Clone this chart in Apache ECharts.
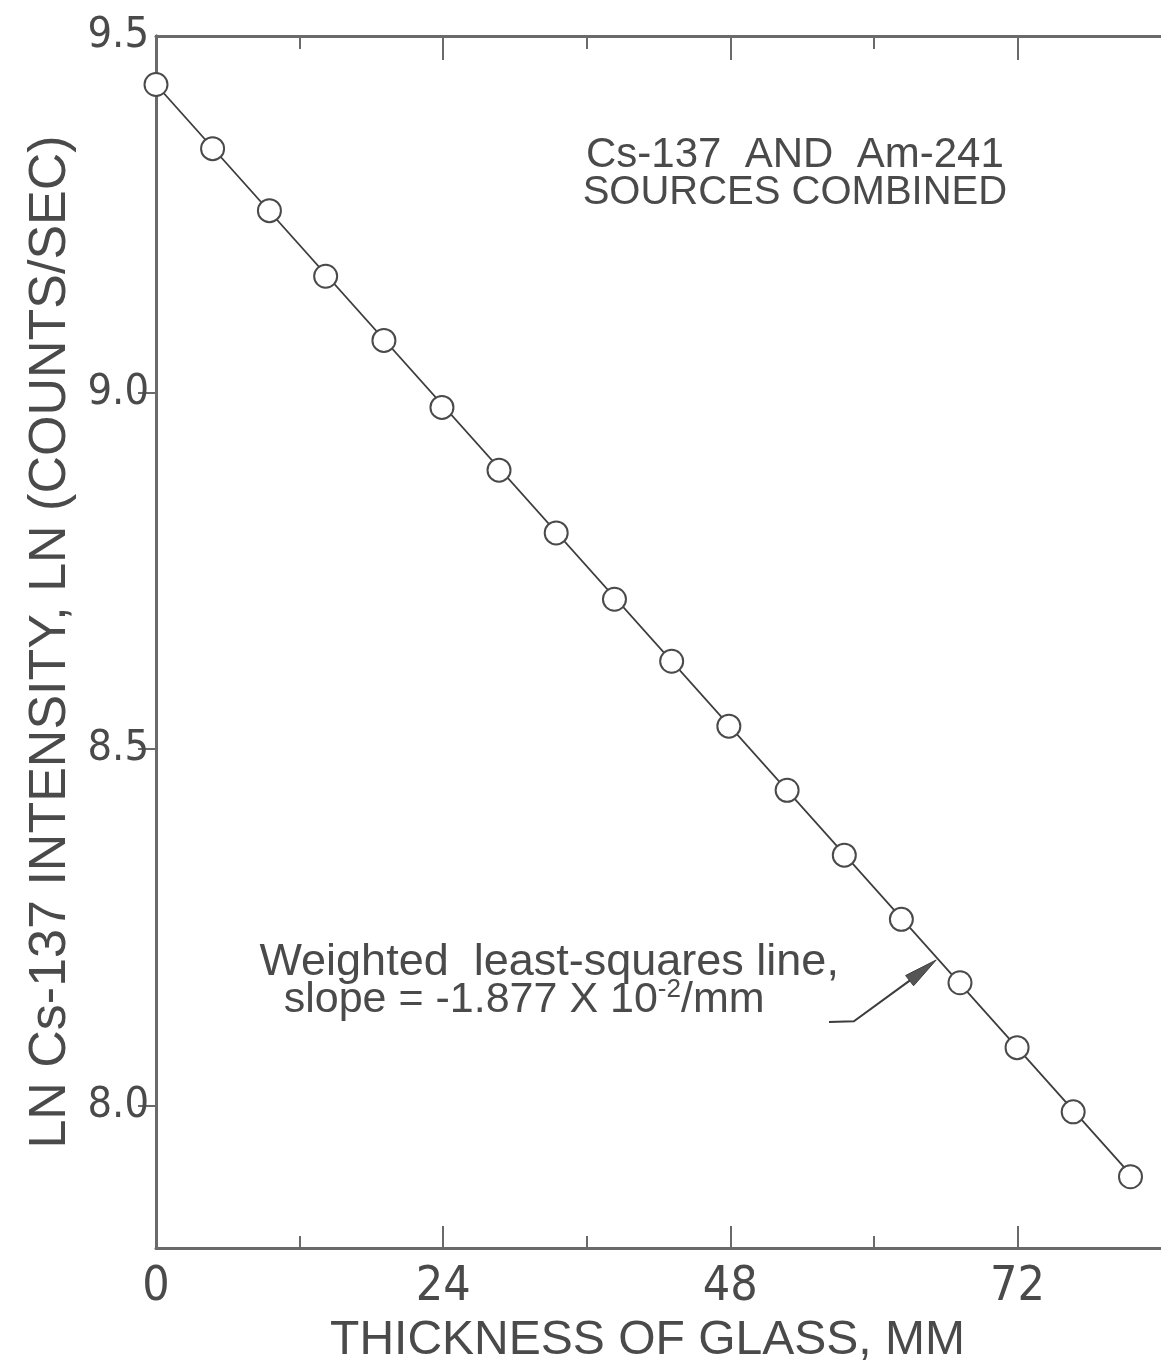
<!DOCTYPE html>
<html>
<head>
<meta charset="utf-8">
<script src="https://cdn.jsdelivr.net/npm/echarts@6/dist/echarts.min.js"></script>
<style>
  html, body { margin: 0; padding: 0; background: #ffffff; }
  #chart { width: 1161px; height: 1370px; }
</style>
</head>
<body>
<div id="chart"></div>
<script>
// Glass thickness (mm) and measured ln(Cs-137 count rate), both sources in place
const thicknessMm = [0, 4.73, 9.48, 14.18, 19.05, 23.9, 28.67, 33.45, 38.32, 43.1,
                     47.88, 52.75, 57.53, 62.3, 67.2, 71.97, 76.66, 81.45];
const lnIntensity = [9.432, 9.342, 9.255, 9.163, 9.073, 8.979, 8.891, 8.803, 8.710, 8.623,
                     8.532, 8.442, 8.351, 8.261, 8.172, 8.081, 7.991, 7.900];

// Weighted least-squares line
const fitIntercept = 9.432;
const fitSlope = -0.01877;

// Axis ticks and labels
const xTickLabels = [0, 24, 48, 72];
const xMajorTicks = [24, 48, 72];
const xMinorTicks = [12, 36, 60];
const yTickLabels = [8.0, 8.5, 9.0, 9.5];
const yTicks = [8.0, 8.5, 9.0];

// Annotation anchors in data units
const sourceLine1At = [53.4, 9.333];
const sourceLine2At = [53.4, 9.280];
const fitNoteLine1At = [32.86, 8.200];
const fitNoteLine2At = [30.77, 8.148];
const arrowPath = [[56.25, 8.117], [58.33, 8.118], [62.99, 8.175]];
const arrowTip = [65.21, 8.204];

const INK = '#3c3c3c';
const FRAME = '#6a6a6a';
const TEXT = '#4a4a4a';
const LETTER = "'Liberation Sans', Arial, sans-serif";
const NARROW = "'Liberation Sans Narrow', 'DejaVu Sans Condensed', 'Liberation Sans', sans-serif";

const chart = echarts.init(document.getElementById('chart'), null, { renderer: 'canvas' });

const fitLine = [thicknessMm[0], thicknessMm[thicknessMm.length - 1]]
  .map(x => [x, fitIntercept + fitSlope * x]);

function xAxisDef(position, ticks, len, withLine, withLabels) {
  return {
    type: 'value', min: 0, max: 84, position: position,
    axisLine: { show: withLine, lineStyle: { color: FRAME, width: 3 } },
    axisTick: { show: true, inside: true, length: len, customValues: ticks,
                lineStyle: { color: FRAME, width: 2 } },
    axisLabel: withLabels ? {
      show: true, customValues: xTickLabels, margin: 16,
      fontSize: 48, fontFamily: NARROW, color: TEXT
    } : { show: false },
    splitLine: { show: false }
  };
}

const option = {
  backgroundColor: '#ffffff',
  animation: false,
  grid: { left: 156, top: 36, width: 1005, height: 1212, containLabel: false, outerBoundsMode: 'none' },
  xAxis: [
    Object.assign(xAxisDef('bottom', xMajorTicks, 22, true, true), {
      name: 'THICKNESS OF GLASS, MM', nameLocation: 'middle', nameGap: 66,
      nameTextStyle: { fontSize: 48, fontFamily: LETTER, color: TEXT, padding: [0, 22, 0, 0] }
    }),
    xAxisDef('bottom', xMinorTicks, 12, false, false),
    xAxisDef('top', xMajorTicks, 24, true, false),
    xAxisDef('top', xMinorTicks, 13, false, false)
  ],
  yAxis: [
    {
      type: 'value', min: 7.8, max: 9.5, position: 'left',
      axisLine: { show: true, lineStyle: { color: FRAME, width: 3 } },
      axisTick: { show: true, inside: false, length: 11, customValues: yTicks,
                  lineStyle: { color: FRAME, width: 2 } },
      axisLabel: { show: true, customValues: yTickLabels, margin: 7,
                   formatter: v => v.toFixed(1),
                   fontSize: 43, fontFamily: NARROW, color: TEXT },
      splitLine: { show: false },
      name: 'LN Cs-137 INTENSITY, LN (COUNTS/SEC)', nameLocation: 'middle',
      nameRotate: 90, nameGap: 40,
      nameTextStyle: { fontSize: 52, fontFamily: LETTER, color: TEXT }
    },
    {
      type: 'value', min: 7.8, max: 9.5, position: 'right',
      axisLine: { show: true, lineStyle: { color: FRAME, width: 3 } },
      axisTick: { show: true, inside: true, length: 18, customValues: yTicks,
                  lineStyle: { color: FRAME, width: 2 } },
      axisLabel: { show: false },
      splitLine: { show: false }
    }
  ],
  series: [
    {
      name: 'Weighted least-squares line', type: 'line',
      data: fitLine, showSymbol: false, clip: false, silent: true,
      lineStyle: { color: INK, width: 1.8 }, z: 3
    },
    {
      name: 'Cs-137 intensity', type: 'scatter',
      data: thicknessMm.map((x, i) => [x, lnIntensity[i]]),
      symbol: 'circle', symbolSize: 23, clip: false,
      itemStyle: { color: '#ffffff', borderColor: TEXT, borderWidth: 2, opacity: 1 },
      z: 4
    }
  ]
};

chart.setOption(option);

// Text notes and leader arrow, placed from data coordinates
const px = p => chart.convertToPixel({ gridIndex: 0 }, p);
const s1 = px(sourceLine1At);
const s2 = px(sourceLine2At);
const n1 = px(fitNoteLine1At);
const n2 = px(fitNoteLine2At);
const shaft = arrowPath.map(px);
const tip = px(arrowTip);
const base = shaft[shaft.length - 1];
const dx = tip[0] - base[0], dy = tip[1] - base[1];
const len = Math.hypot(dx, dy);
const nx = -dy / len * 6.5, ny = dx / len * 6.5;

function note(at, text, size) {
  return {
    type: 'text', x: at[0], y: at[1], z: 10,
    style: { text: text, font: size + 'px ' + LETTER, fill: TEXT,
             align: 'center', verticalAlign: 'middle' }
  };
}

chart.setOption({
  graphic: [
    note(s1, 'Cs-137  AND  Am-241', 42),
    note(s2, 'SOURCES COMBINED', 40),
    note(n1, 'Weighted  least-squares line,', 45),
    {
      type: 'text', x: n2[0], y: n2[1], z: 10,
      style: {
        text: '{a|slope = -1.877 X 10}{s|-2}{a|/mm}',
        align: 'center', verticalAlign: 'middle',
        rich: {
          a: { font: '43px ' + LETTER, fill: TEXT, lineHeight: 46 },
          s: { font: '26px ' + LETTER, fill: TEXT, lineHeight: 46, verticalAlign: 'top' }
        }
      }
    },
    {
      type: 'polyline', z: 10,
      shape: { points: shaft },
      style: { stroke: INK, lineWidth: 2, fill: null }
    },
    {
      type: 'polygon', z: 10,
      shape: { points: [tip, [base[0] + nx, base[1] + ny], [base[0] - nx, base[1] - ny]] },
      style: { fill: '#555555', stroke: INK, lineWidth: 1 }
    }
  ]
});
</script>
</body>
</html>
